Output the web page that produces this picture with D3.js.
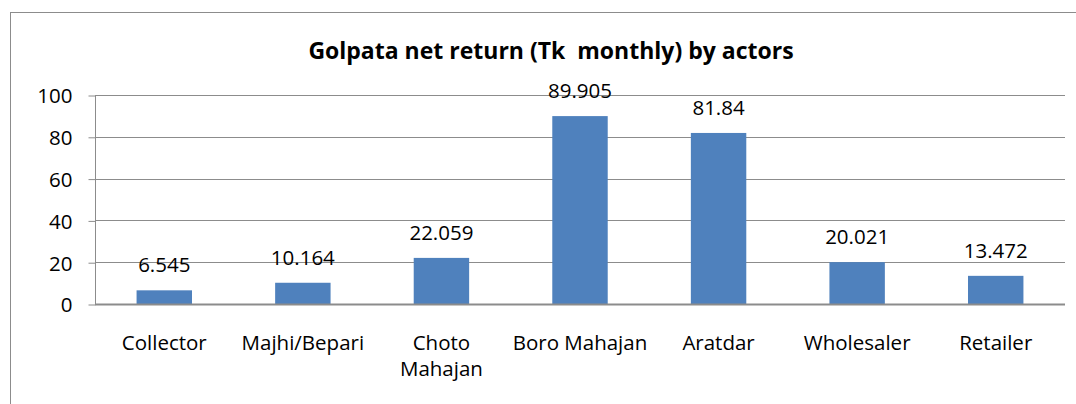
<!DOCTYPE html>
<html>
<head>
<meta charset="utf-8">
<script src="https://cdn.jsdelivr.net/npm/d3@7"></script>
<style>
  html, body { margin: 0; padding: 0; background: #fff; }
  svg { display: block; }
  text { font-family: "Open Sans", Lato, sans-serif; fill: #000; }
</style>
</head>
<body>
<svg id="chart" width="1076" height="404"></svg>
<script>
const title = "Golpata net return (Tk\u00a0 monthly) by actors";
const categories = ["Collector", "Majhi/Bepari", "Choto Mahajan", "Boro Mahajan", "Aratdar", "Wholesaler", "Retailer"];
const categoryLines = [["Collector"], ["Majhi/Bepari"], ["Choto", "Mahajan"], ["Boro Mahajan"], ["Aratdar"], ["Wholesaler"], ["Retailer"]];
const values = [6.545, 10.164, 22.059, 89.905, 81.84, 20.021, 13.472];
const valueLabels = ["6.545", "10.164", "22.059", "89.905", "81.84", "20.021", "13.472"];
const yTicks = [0, 20, 40, 60, 80, 100];

(function () {
const svg = d3.select("#chart");
const pLeft = 95, pRight = 1065, pTop = 95, pBottom = 304;
const fs = 20.5;

// outer frame
svg.append("rect")
  .attr("x", 10.5).attr("y", 12.5)
  .attr("width", 1100).attr("height", 500)
  .attr("fill", "none").attr("stroke", "#8c8c8c").attr("stroke-width", 1);

svg.append("text")
  .attr("x", 551).attr("y", 59)
  .attr("text-anchor", "middle")
  .attr("font-weight", "bold")
  .attr("font-size", 23)
  .text(title);

const x = d3.scaleBand().domain(categories).range([pLeft, pRight]).paddingInner(0.6).paddingOuter(0.3);
const y = d3.scaleLinear().domain([0, 100]).range([pBottom, pTop]);

// gridlines
svg.append("g").selectAll("line").data(yTicks.filter(d => d > 0)).join("line")
  .attr("x1", pLeft).attr("x2", pRight)
  .attr("y1", d => Math.round(y(d)) + 0.5).attr("y2", d => Math.round(y(d)) + 0.5)
  .attr("stroke", "#8c8c8c").attr("stroke-width", 1);

// y axis
const yAxis = d3.axisLeft(y).tickValues(yTicks).tickSize(7).tickPadding(16).tickFormat(d3.format("d"));
const gy = svg.append("g").attr("transform", `translate(${pLeft + 0.5},0.5)`).call(yAxis);
gy.select(".domain").attr("stroke", "#8c8c8c").attr("d", `M0,${pTop}V${pBottom}`);
gy.selectAll(".tick line").attr("stroke", "#8c8c8c");
gy.selectAll(".tick text").attr("font-family", "'Open Sans', Lato, sans-serif").attr("font-size", fs).attr("fill", "#000").attr("dy", "0.36em");

// bars
svg.append("g").selectAll("rect").data(values).join("rect")
  .attr("x", (d, i) => x(categories[i]))
  .attr("width", x.bandwidth())
  .attr("y", d => y(d))
  .attr("height", d => y(0) - y(d))
  .attr("fill", "#4f81bd");

// x axis baseline
svg.append("line")
  .attr("x1", pLeft).attr("x2", pRight)
  .attr("y1", pBottom + 0.5).attr("y2", pBottom + 0.5)
  .attr("stroke", "#8c8c8c").attr("stroke-width", 2);

// value labels
svg.append("g").selectAll("text").data(values).join("text")
  .attr("x", (d, i) => x(categories[i]) + x.bandwidth() / 2)
  .attr("y", d => y(d) - 18)
  .attr("text-anchor", "middle")
  .attr("font-size", fs)
  .text((d, i) => valueLabels[i]);

// category labels
const cg = svg.append("g").selectAll("text").data(categories).join("text")
  .attr("x", d => x(d) + x.bandwidth() / 2)
  .attr("y", 350)
  .attr("text-anchor", "middle")
  .attr("font-size", fs);
cg.each(function(d, i) {
  const t = d3.select(this);
  categoryLines[i].forEach((line, j) => {
    t.append("tspan").attr("x", x(d) + x.bandwidth() / 2).attr("dy", j === 0 ? 0 : 26).text(line);
  });
});
})();
</script>
</body>
</html>
